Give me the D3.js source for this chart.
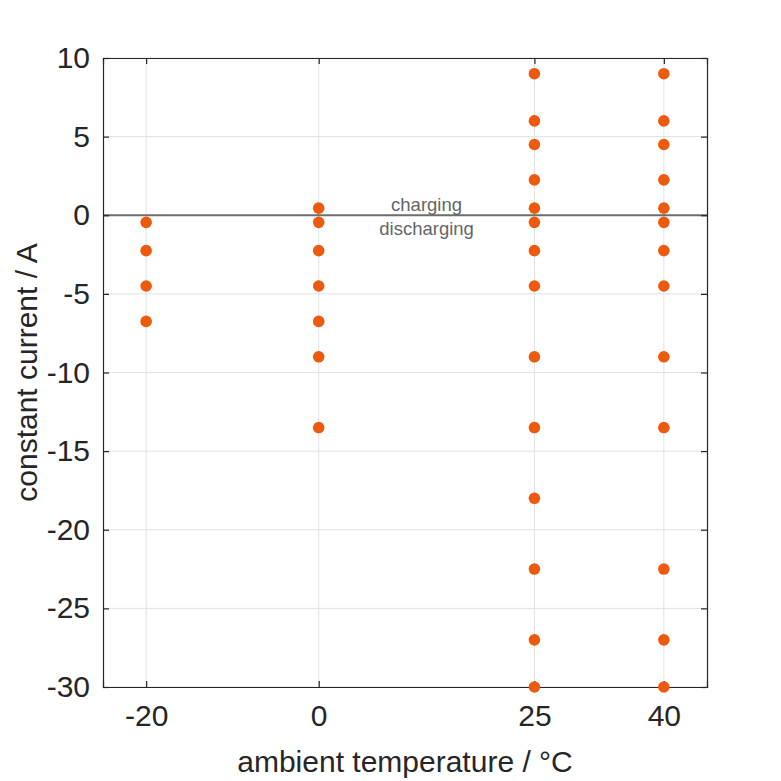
<!DOCTYPE html>
<html>
<head>
<meta charset="utf-8">
<script src="https://cdn.jsdelivr.net/npm/d3@7"></script>
<style>
  body { margin: 0; background: #fff; }
  text { font-family: "Liberation Sans", Arial, sans-serif; }
</style>
</head>
<body>
<div class="chart"></div>
<script>
// data: test currents (A) measured at each ambient temperature (°C)
var temperatures = [-20, 0, 25, 40];
var currentsM20 = [-0.45, -2.25, -4.5, -6.75];
var currents0 = [0.45, -0.45, -2.25, -4.5, -6.75, -9, -13.5];
var currents25 = [9, 6, 4.5, 2.25, 0.45, -0.45, -2.25, -4.5, -9, -13.5, -18, -22.5, -27, -30];
var currents40 = [9, 6, 4.5, 2.25, 0.45, -0.45, -2.25, -4.5, -9, -13.5, -22.5, -27, -30];
var yTicks = [10, 5, 0, -5, -10, -15, -20, -25, -30];

var width = 781, height = 781;
var margin = {top: 58, right: 74, bottom: 94, left: 103};

var svg = d3.select(".chart").append("svg")
	.attr("width", width)
	.attr("height", height);

var x = d3.scaleLinear().domain([-25, 45]).range([margin.left, width - margin.right]);
var y = d3.scaleLinear().domain([-30, 10]).range([height - margin.bottom, margin.top]);

// build point list from the arrays
var groups = [currentsM20, currents0, currents25, currents40];
var points = [];
groups.forEach(function(g, i) {
	g.forEach(function(c) {
		points.push({t: temperatures[i], c: c});
	});
});

// grid
svg.append("g").selectAll("line").data(temperatures).enter().append("line")
	.attr("x1", d => x(d)).attr("x2", d => x(d))
	.attr("y1", y(-30)).attr("y2", y(10))
	.attr("stroke", "#e1e1e1").attr("stroke-width", 1);
svg.append("g").selectAll("line").data(yTicks).enter().append("line")
	.attr("x1", x(-25)).attr("x2", x(45))
	.attr("y1", d => y(d)).attr("y2", d => y(d))
	.attr("stroke", "#e1e1e1").attr("stroke-width", 1);

// zero line
svg.append("line")
	.attr("x1", x(-25)).attr("x2", x(45))
	.attr("y1", y(0)).attr("y2", y(0))
	.attr("stroke", "#6e6e6e").attr("stroke-width", 2);

// labels around the zero line
svg.append("text")
	.attr("x", x(12.5)).attr("y", y(0) - 4)
	.attr("text-anchor", "middle")
	.attr("font-size", 18.5)
	.attr("fill", "#666")
	.text("charging");
svg.append("text")
	.attr("x", x(12.5)).attr("y", y(0) + 20)
	.attr("text-anchor", "middle")
	.attr("font-size", 18.5)
	.attr("fill", "#666")
	.text("discharging");

// axes (ticks pointing inward, box around)
var fmt = function(d) { return d.toString(); };
var bottomAxis = d3.axisBottom(x).tickValues(temperatures).tickSize(-6).tickPadding(18).tickFormat(fmt);
var topAxis = d3.axisTop(x).tickValues(temperatures).tickSize(-6).tickFormat("");
var leftAxis = d3.axisLeft(y).tickValues(yTicks).tickSize(-6).tickPadding(13).tickFormat(fmt);
var rightAxis = d3.axisRight(y).tickValues(yTicks).tickSize(-6).tickFormat("");

function styleAxis(g) {
	g.select(".domain").attr("stroke", "#262626").attr("stroke-width", 1.2);
	g.selectAll(".tick line").attr("stroke", "#262626").attr("stroke-width", 1.2);
	g.selectAll(".tick text")
		.attr("fill", "#262626")
		.attr("font-size", 30)
		.attr("font-family", "Liberation Sans, Arial, sans-serif");
}

svg.append("g").attr("transform", "translate(0," + y(-30) + ")").call(bottomAxis).call(styleAxis);
svg.append("g").attr("transform", "translate(0," + y(10) + ")").call(topAxis).call(styleAxis);
svg.append("g").attr("transform", "translate(" + x(-25) + ",0)").call(leftAxis).call(styleAxis);
svg.append("g").attr("transform", "translate(" + x(45) + ",0)").call(rightAxis).call(styleAxis);

// points
svg.append("g").selectAll("circle").data(points).enter().append("circle")
	.attr("cx", d => x(d.t))
	.attr("cy", d => y(d.c))
	.attr("r", 5.8)
	.attr("fill", "#ec5a0d");

// axis titles
svg.append("text")
	.attr("x", (x(-25) + x(45)) / 2).attr("y", 772)
	.attr("text-anchor", "middle")
	.attr("font-size", 30)
	.attr("fill", "#262626")
	.text("ambient temperature / °C");
svg.append("text")
	.attr("transform", "translate(37," + (y(-30) + y(10)) / 2 + ") rotate(-90)")
	.attr("text-anchor", "middle")
	.attr("font-size", 30)
	.attr("fill", "#262626")
	.text("constant current / A");
</script>
</body>
</html>
